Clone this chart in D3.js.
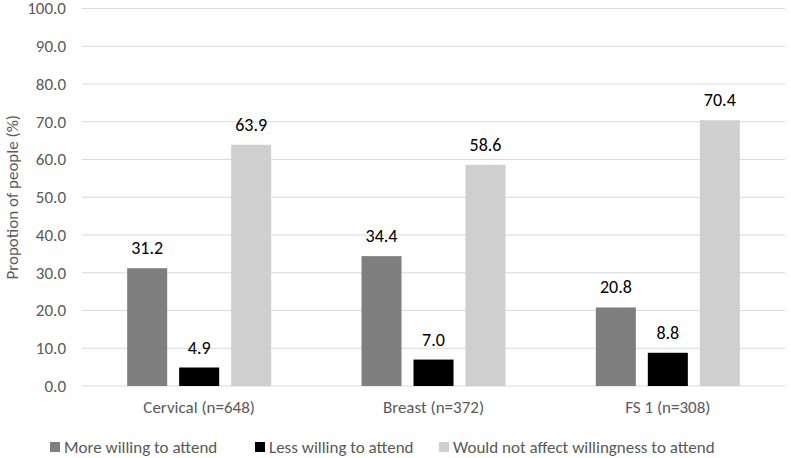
<!DOCTYPE html>
<html>
<head>
<meta charset="utf-8">
<script src="https://cdn.jsdelivr.net/npm/d3@7"></script>
<style>
  body { margin: 0; background: #fff; }
  svg { font-family: Carlito, Calibri, Lato, sans-serif; }
</style>
</head>
<body>
<div id="chart"></div>
<script>
const categories = ['Cervical (n=648)', 'Breast (n=372)', 'FS 1 (n=308)'];
const seriesNames = ['More willing to attend', 'Less willing to attend', 'Would not affect willingness to attend'];
const moreWilling = [31.2, 34.4, 20.8];
const lessWilling = [4.9, 7.0, 8.8];
const notAffect = [63.9, 58.6, 70.4];
const yTicks = [0, 10, 20, 30, 40, 50, 60, 70, 80, 90, 100];
const colors = ['#7f7f7f', '#000000', '#cfcfcf'];

const series = [moreWilling, lessWilling, notAffect];

const width = 791;
const height = 458;
const plotLeft = 82, plotRight = 785, plotTop = 8.5, plotBottom = 386;
const fontFamily = 'Carlito, Calibri, Lato, sans-serif';

const svg = d3.select('#chart')
  .append('svg')
  .attr('width', width)
  .attr('height', height);

const x0 = d3.scaleBand()
  .domain(categories)
  .range([plotLeft, plotRight])
  .paddingInner(0)
  .paddingOuter(0);

const x1 = d3.scaleBand()
  .domain(d3.range(series.length))
  .range([x0.bandwidth() / 2 - 72, x0.bandwidth() / 2 + 72])
  .paddingInner(0.23)
  .paddingOuter(0);

const y = d3.scaleLinear()
  .domain([0, 100])
  .range([plotBottom, plotTop]);

// gridlines
svg.append('g')
  .selectAll('line')
  .data(yTicks)
  .enter()
  .append('line')
  .attr('x1', plotLeft)
  .attr('x2', plotRight)
  .attr('y1', d => y(d))
  .attr('y2', d => y(d))
  .attr('stroke', '#d9d9d9')
  .attr('stroke-width', 1);

// y labels
const yAxis = d3.axisLeft(y)
  .tickValues(yTicks)
  .tickFormat(d3.format('.1f'))
  .tickSize(0)
  .tickPadding(16);

svg.append('g')
  .attr('transform', `translate(${plotLeft}, 0)`)
  .call(yAxis)
  .call(g => g.select('.domain').remove())
  .call(g => g.selectAll('text')
    .attr('fill', '#595959')
    .style('font-size', '17px')
    .style('font-family', fontFamily));

// x labels
const xAxis = d3.axisBottom(x0).tickSize(0).tickPadding(15);
svg.append('g')
  .attr('transform', `translate(0, ${plotBottom})`)
  .call(xAxis)
  .call(g => g.select('.domain').remove())
  .call(g => g.selectAll('text')
    .attr('fill', '#595959')
    .style('font-size', '17px')
    .style('font-family', fontFamily));

// axis title
svg.append('text')
  .attr('transform', `translate(18, ${(plotTop + plotBottom) / 2}) rotate(-90)`)
  .attr('text-anchor', 'middle')
  .attr('fill', '#595959')
  .style('font-size', '17px')
  .text('Propotion of people (%)');

// bars
const groups = svg.append('g')
  .selectAll('g')
  .data(categories)
  .enter()
  .append('g')
  .attr('transform', d => `translate(${x0(d)}, 0)`);

groups.selectAll('rect')
  .data((d, i) => series.map((s, j) => ({ s: j, v: s[i] })))
  .enter()
  .append('rect')
  .attr('x', d => x1(d.s))
  .attr('y', d => y(d.v))
  .attr('width', x1.bandwidth())
  .attr('height', d => y(0) - y(d.v))
  .attr('fill', d => colors[d.s]);

groups.selectAll('text.val')
  .data((d, i) => series.map((s, j) => ({ s: j, v: s[i] })))
  .enter()
  .append('text')
  .attr('class', 'val')
  .attr('x', d => x1(d.s) + x1.bandwidth() / 2)
  .attr('y', d => y(d.v) - 14)
  .attr('text-anchor', 'middle')
  .attr('fill', '#000')
  .style('font-size', '18px')
  .text(d => d.v.toFixed(1));

// legend
const legendX = [50, 255, 439];
const legend = svg.append('g')
  .selectAll('g')
  .data(seriesNames)
  .enter()
  .append('g')
  .attr('transform', (d, i) => `translate(${legendX[i]}, 447)`);

legend.append('rect')
  .attr('x', 0)
  .attr('y', -5)
  .attr('width', 10)
  .attr('height', 10)
  .attr('fill', (d, i) => colors[i]);

legend.append('text')
  .attr('x', 14)
  .attr('y', 0)
  .attr('dy', '0.35em')
  .attr('fill', '#595959')
  .style('font-size', '17px')
  .text(d => d);
</script>
</body>
</html>
